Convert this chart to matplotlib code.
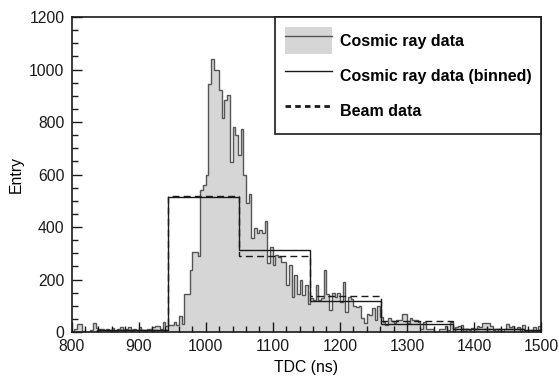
import matplotlib.pyplot as plt
import numpy as np
from matplotlib.patches import Patch
from matplotlib.lines import Line2D

plt.rcParams['font.family'] = ['Liberation Sans', 'DejaVu Sans']

# fine histogram, 4 ns bins from 800 to 1500
fine_edges = np.arange(800, 1504, 4)
cosmic = [
    5, 12, 32, 32, 3, 0, 0, 8, 33, 14,            # 800-836
    12, 10, 8, 12, 6, 15, 6, 10, 18, 8,           # 840-876
    10, 20, 6, 12, 8, 20, 8, 6, 12, 10,           # 880-916
    18, 23, 23, 12, 39, 23, 27, 27, 39, 27,       # 920-956
    61, 30, 145, 145, 236, 307, 307, 290, 541, 560,  # 960-996
    600, 947, 1042, 998, 998, 922, 814, 884, 903, 649,  # 1000-1036
    780, 750, 674, 775, 598, 490, 528, 357, 395, 376,   # 1040-1076
    389, 376, 424, 262, 325, 255, 293, 287, 268, 268,   # 1080-1116
    179, 255, 135, 217, 147, 198, 141, 179, 109, 130,   # 1120-1156
    124, 180, 122, 130, 235, 147, 84, 150, 135, 150,    # 1160-1196
    116, 190, 77, 135, 128, 100, 97, 100, 52, 33,       # 1200-1236
    69, 66, 90, 46, 100, 58, 39, 27, 52, 42,            # 1240-1276
    36, 45, 48, 68, 70, 33, 52, 45, 48, 38,             # 1280-1316
    12, 38, 10, 10, 12, 2, 2, 10, 10, 23,               # 1320-1356
    8, 38, 2, 18, 25, 28, 5, 12, 8, 15,                 # 1360-1396
    10, 25, 20, 36, 36, 36, 25, 8, 5, 10,               # 1400-1436
    6, 12, 30, 18, 25, 10, 20, 5, 28, 0,                # 1440-1476
    0, 0, 20, 2, 22,                                    # 1480-1496
]

# coarse bins
coarse_edges = [838, 944, 1050, 1156, 1262, 1368, 1474, 1580]
cosmic_binned = [9, 515, 312, 117, 32, 12, 8]
beam = [8, 518, 290, 139, 41, 10, 8]

fig = plt.figure(figsize=(5.59, 3.80), dpi=100)
ax = fig.add_axes([0.128, 0.126, 0.840, 0.829])

ax.stairs(cosmic, fine_edges, fill=True, color='#d6d6d6', lw=0)
ax.stairs(cosmic, fine_edges, color='#555555', lw=1.0)
ax.stairs(cosmic_binned, coarse_edges, color='#1a1a1a', lw=1.0)
ax.stairs(beam, coarse_edges, color='#1a1a1a', lw=1.0, linestyle=(0, (5, 3)))

ax.set_xlim(800, 1500)
ax.set_ylim(0, 1200)
ax.set_xticks(np.arange(800, 1501, 100))
ax.set_xticks(np.arange(800, 1501, 20), minor=True)
ax.set_yticks(np.arange(0, 1201, 200))
ax.set_yticks(np.arange(0, 1201, 50), minor=True)
ax.tick_params(which='both', direction='in', top=False, right=False,
               labelsize=11.3, colors='#1a1a1a', width=1.0)
ax.tick_params(which='major', length=7, pad=5)
ax.tick_params(which='minor', length=4)
for s in ax.spines.values():
    s.set_linewidth(1.2)
    s.set_color('#1a1a1a')

ax.set_xlabel('TDC (ns)', fontsize=11.3, labelpad=4)
ax.set_ylabel('Entry', fontsize=11.3, labelpad=4)

handles = [
    (Patch(facecolor='#d6d6d6', edgecolor='none'), Line2D([], [], color='#555555', lw=1.0)),
    Line2D([], [], color='#1a1a1a', lw=1.0),
    Line2D([], [], color='#1a1a1a', lw=2.0, linestyle=(0, (2, 1.5))),
]
labels = ['Cosmic ray data', 'Cosmic ray data (binned)', 'Beam data']
leg = ax.legend(handles, labels, loc='upper right', bbox_to_anchor=(1, 1),
                borderaxespad=0, fancybox=False, framealpha=1,
                edgecolor='#1a1a1a', handlelength=2.95, handleheight=2.23,
                labelspacing=0.5, borderpad=0.62, handletextpad=0.45,
                prop={'weight': 'bold', 'size': 11.5})
leg.get_frame().set_linewidth(1.2)

fig.savefig('out.png', dpi=100)
